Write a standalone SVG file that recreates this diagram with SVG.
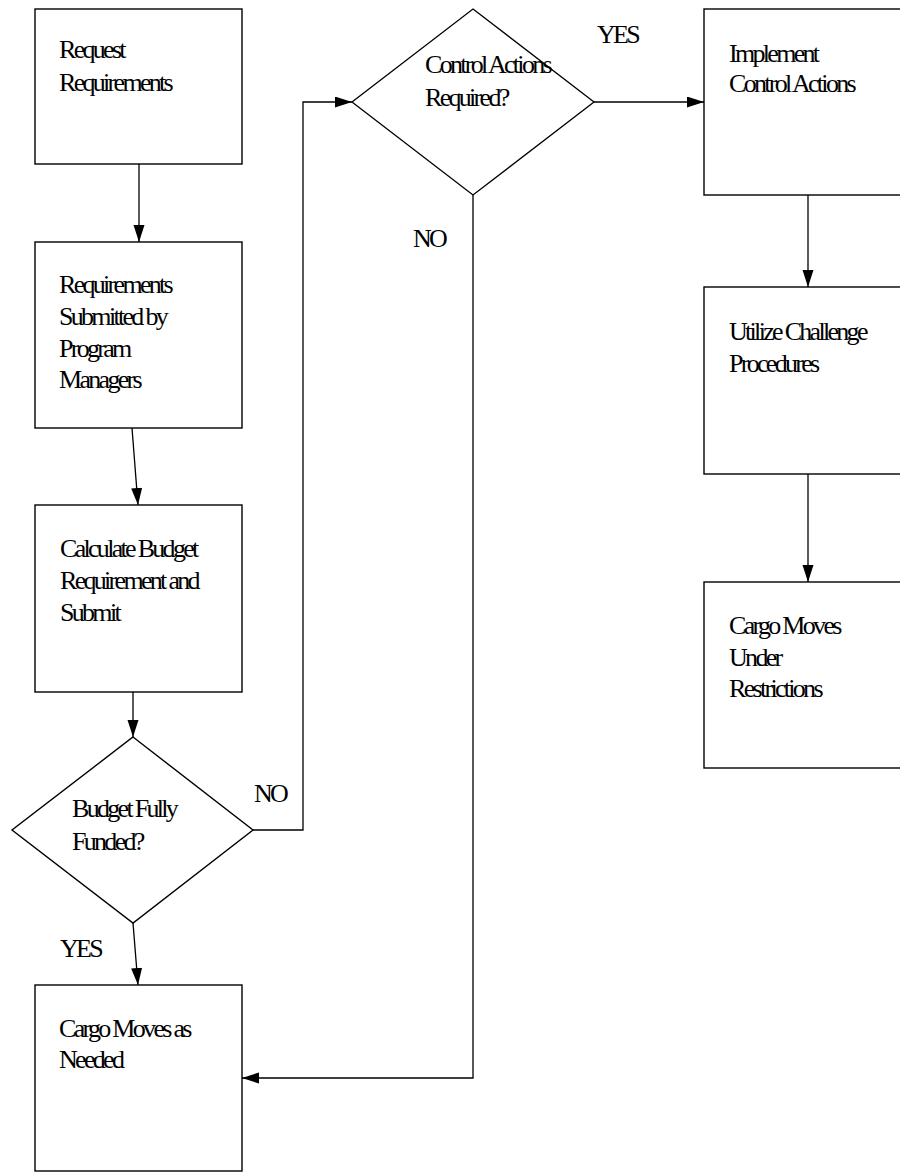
<svg xmlns="http://www.w3.org/2000/svg" width="900" height="1172" viewBox="0 0 900 1172">
<style>
.box{fill:#fff;stroke:#000;stroke-width:1.4}
.ln{fill:none;stroke:#000;stroke-width:1.3}
text{font-family:"Liberation Serif","Times New Roman",serif;font-size:26px;letter-spacing:-2.7px;fill:#000}
</style>
<defs>
<marker id="ah" markerUnits="userSpaceOnUse" markerWidth="18" markerHeight="12" refX="17" refY="5.5" orient="auto">
<path d="M0,0 L17,5.5 L0,11 z" fill="#000"/>
</marker>
</defs>
<rect width="900" height="1172" fill="#fff"/>
<g id="connectors">
<line class="ln" x1="139" y1="164" x2="139" y2="242" marker-end="url(#ah)"/>
<line class="ln" x1="132" y1="428" x2="138" y2="505" marker-end="url(#ah)"/>
<line class="ln" x1="133" y1="692" x2="133" y2="737" marker-end="url(#ah)"/>
<polyline class="ln" points="253,830 303,830 303,102 352,102" marker-end="url(#ah)"/>
<line class="ln" x1="133" y1="923" x2="138" y2="985" marker-end="url(#ah)"/>
<polyline class="ln" points="473,195 473,1078 242,1078" marker-end="url(#ah)"/>
<line class="ln" x1="594" y1="102" x2="704" y2="102" marker-end="url(#ah)"/>
<line class="ln" x1="808" y1="195" x2="808" y2="287" marker-end="url(#ah)"/>
<line class="ln" x1="808" y1="474" x2="808" y2="582" marker-end="url(#ah)"/>
<text x="254" y="802">NO</text>
<text x="60" y="957">YES</text>
<text x="597" y="43">YES</text>
<text x="413" y="247">NO</text>
</g>
<g id="n1">
<rect class="box" x="35" y="9" width="207" height="155"/>
<text x="59" y="58">Request</text>
<text x="59" y="91">Requirements</text>
</g>
<g id="n2">
<rect class="box" x="35" y="242" width="207" height="186"/>
<text x="59" y="293">Requirements</text>
<text x="59" y="325">Submitted by</text>
<text x="59" y="357">Program</text>
<text x="59" y="388">Managers</text>
</g>
<g id="n3">
<rect class="box" x="35" y="505" width="207" height="187"/>
<text x="60" y="557">Calculate Budget</text>
<text x="60" y="589">Requirement and</text>
<text x="60" y="621">Submit</text>
</g>
<g id="d1">
<polygon class="box" points="133,737 253,830 133,923 12,830"/>
<text x="72" y="817">Budget Fully</text>
<text x="72" y="850">Funded?</text>
</g>
<g id="n4">
<rect class="box" x="35" y="985" width="207" height="186"/>
<text x="59" y="1037">Cargo Moves as</text>
<text x="59" y="1068">Needed</text>
</g>
<g id="d2">
<polygon class="ln" points="473,9 594,102 473,195 352,102"/>
<text x="425" y="73">Control Actions</text>
<text x="425" y="106">Required?</text>
</g>
<g id="n5">
<rect class="box" x="704" y="9" width="207" height="186"/>
<text x="729" y="62">Implement</text>
<text x="729" y="92">Control Actions</text>
</g>
<g id="n6">
<rect class="box" x="704" y="287" width="207" height="187"/>
<text x="729" y="340">Utilize Challenge</text>
<text x="729" y="372">Procedures</text>
</g>
<g id="n7">
<rect class="box" x="704" y="582" width="207" height="186"/>
<text x="729" y="634">Cargo Moves</text>
<text x="729" y="666">Under</text>
<text x="729" y="697">Restrictions</text>
</g>
</svg>
